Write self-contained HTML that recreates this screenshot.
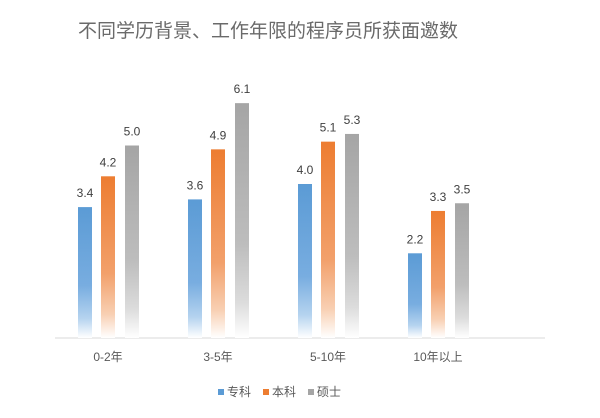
<!DOCTYPE html>
<html><head><meta charset="utf-8"><style>
body{margin:0;background:#fff;}
svg{display:block;font-family:"Liberation Sans","Noto Sans CJK SC",sans-serif;}
</style></head><body>
<svg id="c" width="600" height="418">
<defs>
<linearGradient id="gb" x1="0" y1="0" x2="0" y2="1"><stop offset="0" stop-color="#5b9bd5"/><stop offset="0.6" stop-color="#78ade0"/><stop offset="0.85" stop-color="#b5d3ef"/><stop offset="1" stop-color="#fff"/></linearGradient>
<linearGradient id="go" x1="0" y1="0" x2="0" y2="1"><stop offset="0" stop-color="#ed7d31"/><stop offset="0.6" stop-color="#f2a06b"/><stop offset="0.85" stop-color="#f8cfb2"/><stop offset="1" stop-color="#fff"/></linearGradient>
<linearGradient id="gg" x1="0" y1="0" x2="0" y2="1"><stop offset="0" stop-color="#a5a5a5"/><stop offset="0.6" stop-color="#bdbdbd"/><stop offset="0.85" stop-color="#dcdcdc"/><stop offset="1" stop-color="#fff"/></linearGradient>
</defs>
<text x="78" y="37" font-size="19" fill="#6a6a6a">不同学历背景、工作年限的程序员所获面邀数</text>
<line x1="55" y1="338" x2="545" y2="338" stroke="#d9d9d9" stroke-width="1"/>
<g id="bars"></g>
<g>
<rect x="218" y="389" width="6" height="6" fill="#5b9bd5"/>
<text x="227" y="396" font-size="12" fill="#595959">专科</text>
<rect x="263" y="389" width="6" height="6" fill="#ed7d31"/>
<text x="272" y="396" font-size="12" fill="#595959">本科</text>
<rect x="308" y="389" width="6" height="6" fill="#a5a5a5"/>
<text x="317" y="396" font-size="12" fill="#595959">硕士</text>
</g>
</svg>
<script>
const categories=["0-2年","3-5年","5-10年","10年以上"];
const zhuanke=[3.4,3.6,4.0,2.2];
const benke=[4.2,4.9,5.1,3.3];
const shuoshi=[5.0,6.1,5.3,3.5];
const seriesNames=["zhuanke","benke","shuoshi"];
const NS="http://www.w3.org/2000/svg";
const g=document.getElementById("bars");
const base=338,unit=38.5;
const xc=i=>108+i*110;
const y=v=>base-v*unit;
const series=[zhuanke,benke,shuoshi];
const fills=["url(#gb)","url(#go)","url(#gg)"];
const offs=[-23,0,24];
categories.forEach((c,i)=>{
  series.forEach((s,k)=>{
    const r=document.createElementNS(NS,"rect");
    r.setAttribute("x",xc(i)+offs[k]-7);
    r.setAttribute("y",y(s[i]));
    r.setAttribute("width",14);
    r.setAttribute("height",base-y(s[i]));
    r.setAttribute("fill",fills[k]);
    
    
    g.appendChild(r);
    const t=document.createElementNS(NS,"text");
    t.setAttribute("x",xc(i)+offs[k]);
    t.setAttribute("y",y(s[i])-10);
    t.setAttribute("text-anchor","middle");
    t.setAttribute("font-size","12");
    t.setAttribute("fill","#404040");
    t.textContent=s[i].toFixed(1);
    
    
    g.appendChild(t);
  });
  const l=document.createElementNS(NS,"text");
  l.setAttribute("x",xc(i));
  l.setAttribute("y",361);
  l.setAttribute("text-anchor","middle");
  l.setAttribute("font-size","12");
  l.setAttribute("fill","#595959");
  l.textContent=c;
  
  
  g.appendChild(l);
});
</script>
</body></html>
